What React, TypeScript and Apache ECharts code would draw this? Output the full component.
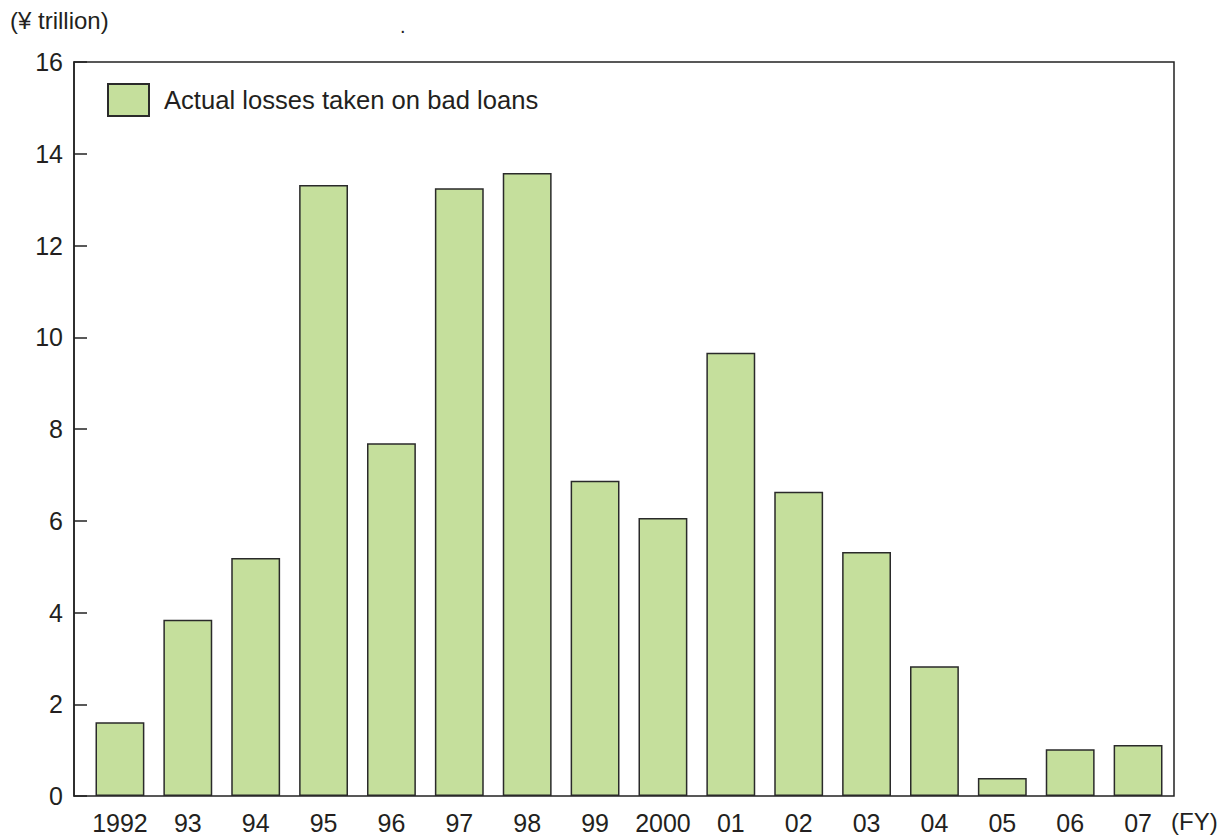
import React, { useEffect, useRef } from "react";
import * as echarts from "echarts";

const categories = ["1992", "93", "94", "95", "96", "97", "98", "99", "2000", "01", "02", "03", "04", "05", "06", "07"];
const losses = [1.61, 3.84, 5.19, 13.32, 7.69, 13.25, 13.58, 6.87, 6.06, 9.66, 6.63, 5.32, 2.83, 0.39, 1.02, 1.11];
const seriesName = "Actual losses taken on bad loans";
const yUnit = "(¥ trillion)";
const xUnit = "(FY)";

const textColor = "#231f20";
const font = "'Liberation Sans', Arial, Helvetica, sans-serif";
const fs = 25;

export default function App() {
  const ref = useRef<HTMLDivElement>(null);
  useEffect(() => {
    if (!ref.current) return;
    const chart = echarts.init(ref.current, null, { renderer: "svg" });
    chart.setOption({
      animation: false,
      backgroundColor: "#ffffff",
      grid: [
        {
          left: 74,
          right: 49,
          top: 62,
          bottom: 40,
          show: true,
          borderColor: "#222222",
          borderWidth: 1.5,
        },
        {
          left: 86,
          right: 51,
          top: 62,
          bottom: 40,
        },
      ],
      legend: {
        show: true,
        left: 107,
        top: 83,
        padding: 0,
        itemWidth: 41,
        itemHeight: 32,
        icon: "rect",
        data: [seriesName],
        textStyle: { fontSize: 25.6, color: textColor, fontFamily: font, padding: [0, 0, 0, 10] },
      },
      xAxis: [
        {
          type: "value",
          gridIndex: 0,
          min: 0,
          max: 1,
          show: false,
        },
        {
          type: "category",
          gridIndex: 1,
          data: categories,
          axisLine: { show: false },
          axisTick: { show: false },
          axisLabel: { interval: 0, fontSize: fs, color: textColor, fontFamily: font, margin: 14 },
        },
      ],
      yAxis: [
        {
          type: "value",
          gridIndex: 0,
          min: 0,
          max: 16,
          interval: 2,
          axisLine: { show: true, lineStyle: { color: "#222222", width: 1.5 } },
          axisTick: { show: true, inside: true, length: 13, lineStyle: { color: "#222222", width: 1.5 } },
          splitLine: { show: false },
          axisLabel: { fontSize: fs, color: textColor, fontFamily: font, margin: 11 },
        },
        {
          type: "value",
          gridIndex: 1,
          min: 0,
          max: 16,
          show: false,
        },
      ],
      series: [
        {
          name: seriesName,
          type: "bar",
          xAxisIndex: 1,
          yAxisIndex: 1,
          data: losses,
          barCategoryGap: "28%",
          itemStyle: { color: "#c5df9c", borderColor: "#2a2a2a", borderWidth: 1.5 },
        },
      ],
      graphic: [
        {
          type: "text",
          left: 10,
          top: 8,
          style: { text: yUnit, fontSize: 24, fill: textColor, fontFamily: font },
        },
        {
          type: "text",
          left: 1171,
          top: 809,
          style: { text: xUnit, fontSize: 24, fill: textColor, fontFamily: font },
        },
        {
          type: "text",
          left: 400,
          top: 16,
          style: { text: ".", fontSize: 20, fill: textColor, fontFamily: font },
        },
      ],
    });
    return () => chart.dispose();
  }, []);
  return <div ref={ref} style={{ position: "absolute", left: 0, top: 0, width: 1223, height: 836 }} />;
}
